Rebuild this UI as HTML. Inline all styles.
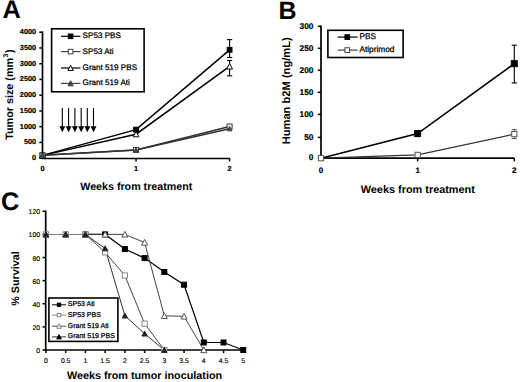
<!DOCTYPE html>
<html><head><meta charset="utf-8"><style>
html,body{margin:0;padding:0;background:#fff;}
body{width:520px;height:382px;overflow:hidden;}
svg{display:block;font-family:"Liberation Sans", sans-serif;text-rendering:geometricPrecision;}
</style></head><body>
<svg width="520" height="382" viewBox="0 0 520 382">
<rect width="520" height="382" fill="#fff"/>
<text x="2.50" y="17.80" font-size="25.4" font-weight="bold" text-anchor="start" fill="#000" >A</text>
<line x1="42.50" y1="31.40" x2="42.50" y2="159.00" stroke="#000" stroke-width="1.7"/>
<line x1="41.70" y1="158.50" x2="229.60" y2="158.50" stroke="#000" stroke-width="1.7"/>
<line x1="39.30" y1="158.20" x2="42.50" y2="158.20" stroke="#000" stroke-width="1.5"/>
<text x="36.10" y="160.00" font-size="7.3" font-weight="bold" text-anchor="end" fill="#000" stroke="#000" stroke-width="0.2" >0</text>
<line x1="39.30" y1="142.45" x2="42.50" y2="142.45" stroke="#000" stroke-width="1.5"/>
<text x="36.10" y="144.25" font-size="7.3" font-weight="bold" text-anchor="end" fill="#000" stroke="#000" stroke-width="0.2" >500</text>
<line x1="39.30" y1="126.70" x2="42.50" y2="126.70" stroke="#000" stroke-width="1.5"/>
<text x="36.10" y="128.50" font-size="7.3" font-weight="bold" text-anchor="end" fill="#000" stroke="#000" stroke-width="0.2" >1000</text>
<line x1="39.30" y1="110.95" x2="42.50" y2="110.95" stroke="#000" stroke-width="1.5"/>
<text x="36.10" y="112.75" font-size="7.3" font-weight="bold" text-anchor="end" fill="#000" stroke="#000" stroke-width="0.2" >1500</text>
<line x1="39.30" y1="95.20" x2="42.50" y2="95.20" stroke="#000" stroke-width="1.5"/>
<text x="36.10" y="97.00" font-size="7.3" font-weight="bold" text-anchor="end" fill="#000" stroke="#000" stroke-width="0.2" >2000</text>
<line x1="39.30" y1="79.45" x2="42.50" y2="79.45" stroke="#000" stroke-width="1.5"/>
<text x="36.10" y="81.25" font-size="7.3" font-weight="bold" text-anchor="end" fill="#000" stroke="#000" stroke-width="0.2" >2500</text>
<line x1="39.30" y1="63.70" x2="42.50" y2="63.70" stroke="#000" stroke-width="1.5"/>
<text x="36.10" y="65.50" font-size="7.3" font-weight="bold" text-anchor="end" fill="#000" stroke="#000" stroke-width="0.2" >3000</text>
<line x1="39.30" y1="47.95" x2="42.50" y2="47.95" stroke="#000" stroke-width="1.5"/>
<text x="36.10" y="49.75" font-size="7.3" font-weight="bold" text-anchor="end" fill="#000" stroke="#000" stroke-width="0.2" >3500</text>
<line x1="39.30" y1="32.20" x2="42.50" y2="32.20" stroke="#000" stroke-width="1.5"/>
<text x="36.10" y="34.00" font-size="7.3" font-weight="bold" text-anchor="end" fill="#000" stroke="#000" stroke-width="0.2" >4000</text>
<line x1="136.05" y1="158.20" x2="136.05" y2="161.40" stroke="#000" stroke-width="1.5"/>
<line x1="229.60" y1="158.20" x2="229.60" y2="161.40" stroke="#000" stroke-width="1.5"/>
<text x="42.50" y="171.30" font-size="7.3" font-weight="bold" text-anchor="middle" fill="#000" stroke="#000" stroke-width="0.2" >0</text>
<text x="136.05" y="171.30" font-size="7.3" font-weight="bold" text-anchor="middle" fill="#000" stroke="#000" stroke-width="0.2" >1</text>
<text x="229.60" y="171.30" font-size="7.3" font-weight="bold" text-anchor="middle" fill="#000" stroke="#000" stroke-width="0.2" >2</text>
<text x="136.30" y="189.70" font-size="10.7" font-weight="bold" text-anchor="middle" fill="#000" >Weeks from treatment</text>
<text x="13.20" y="94.60" font-size="10.8" font-weight="bold" text-anchor="middle" fill="#000" transform="rotate(-90 13.2 94.6)">Tumor size (mm<tspan font-size="7" dx="0.4" dy="-5.6">3</tspan><tspan dx="0.6" dy="5.6">)</tspan></text>
<line x1="62.30" y1="107.90" x2="62.30" y2="127.50" stroke="#000" stroke-width="1.1"/>
<polygon points="59.30,126.3 65.30,126.3 62.30,132.3" fill="#000"/>
<line x1="68.60" y1="107.90" x2="68.60" y2="127.50" stroke="#000" stroke-width="1.1"/>
<polygon points="65.60,126.3 71.60,126.3 68.60,132.3" fill="#000"/>
<line x1="74.90" y1="107.90" x2="74.90" y2="127.50" stroke="#000" stroke-width="1.1"/>
<polygon points="71.90,126.3 77.90,126.3 74.90,132.3" fill="#000"/>
<line x1="81.20" y1="107.90" x2="81.20" y2="127.50" stroke="#000" stroke-width="1.1"/>
<polygon points="78.20,126.3 84.20,126.3 81.20,132.3" fill="#000"/>
<line x1="87.30" y1="107.90" x2="87.30" y2="127.50" stroke="#000" stroke-width="1.1"/>
<polygon points="84.30,126.3 90.30,126.3 87.30,132.3" fill="#000"/>
<line x1="93.50" y1="107.90" x2="93.50" y2="127.50" stroke="#000" stroke-width="1.1"/>
<polygon points="90.50,126.3 96.50,126.3 93.50,132.3" fill="#000"/>
<polyline points="42.50,155.36 136.05,129.60 229.60,49.81" fill="none" stroke="#000" stroke-width="1.5" stroke-linejoin="miter"/>
<polyline points="42.50,155.36 136.05,149.92 229.60,126.51" fill="none" stroke="#333" stroke-width="1.5" stroke-linejoin="miter"/>
<polyline points="42.50,155.36 136.05,134.20 229.60,66.41" fill="none" stroke="#000" stroke-width="1.5" stroke-linejoin="miter"/>
<polyline points="42.50,155.36 136.05,149.92 229.60,128.68" fill="none" stroke="#333" stroke-width="1.5" stroke-linejoin="miter"/>
<line x1="229.60" y1="39.61" x2="229.60" y2="57.51" stroke="#000" stroke-width="1.1"/>
<line x1="227.00" y1="39.61" x2="232.20" y2="39.61" stroke="#000" stroke-width="1.1"/>
<line x1="227.00" y1="57.51" x2="232.20" y2="57.51" stroke="#000" stroke-width="1.1"/>
<line x1="229.60" y1="60.51" x2="229.60" y2="75.81" stroke="#000" stroke-width="1.1"/>
<line x1="227.00" y1="60.51" x2="232.20" y2="60.51" stroke="#000" stroke-width="1.1"/>
<line x1="227.00" y1="75.81" x2="232.20" y2="75.81" stroke="#000" stroke-width="1.1"/>
<rect x="40.10" y="152.96" width="4.8" height="4.8" fill="#000" stroke="#000" stroke-width="1.0"/>
<rect x="133.65" y="127.20" width="4.8" height="4.8" fill="#000" stroke="#000" stroke-width="1.0"/>
<rect x="227.20" y="47.41" width="4.8" height="4.8" fill="#000" stroke="#000" stroke-width="1.0"/>
<rect x="40.00" y="152.86" width="5.0" height="5.0" fill="#fff" stroke="#333" stroke-width="1.0"/>
<rect x="133.55" y="147.42" width="5.0" height="5.0" fill="#fff" stroke="#333" stroke-width="1.0"/>
<rect x="227.10" y="124.01" width="5.0" height="5.0" fill="#fff" stroke="#333" stroke-width="1.0"/>
<polygon points="42.50,152.45 45.40,157.97 39.60,157.97" fill="#fff" stroke="#000" stroke-width="1.0" stroke-linejoin="miter"/>
<polygon points="136.05,131.29 138.95,136.81 133.15,136.81" fill="#fff" stroke="#000" stroke-width="1.0" stroke-linejoin="miter"/>
<polygon points="229.60,63.50 232.50,69.02 226.70,69.02" fill="#fff" stroke="#000" stroke-width="1.0" stroke-linejoin="miter"/>
<polygon points="42.50,152.90 44.90,157.52 40.10,157.52" fill="#444" stroke="#444" stroke-width="1.0" stroke-linejoin="miter"/>
<polygon points="136.05,147.46 138.45,152.08 133.65,152.08" fill="#444" stroke="#444" stroke-width="1.0" stroke-linejoin="miter"/>
<polygon points="229.60,126.22 232.00,130.84 227.20,130.84" fill="#444" stroke="#444" stroke-width="1.0" stroke-linejoin="miter"/>
<rect x="51.6" y="28.8" width="92.5" height="63.0" fill="#fff" stroke="#000" stroke-width="1.6"/>
<line x1="61.00" y1="36.30" x2="80.40" y2="36.30" stroke="#000" stroke-width="1.2"/>
<rect x="68.30" y="34.00" width="4.6" height="4.6" fill="#000" stroke="#000" stroke-width="1.0"/>
<text x="82.60" y="38.40" font-size="8.1" font-weight="normal" text-anchor="start" fill="#000" stroke="#000" stroke-width="0.25" >SP53 PBS</text>
<line x1="61.00" y1="51.60" x2="80.40" y2="51.60" stroke="#444" stroke-width="1.2"/>
<rect x="68.30" y="49.30" width="4.6" height="4.6" fill="#fff" stroke="#444" stroke-width="1.0"/>
<text x="82.60" y="53.50" font-size="8.1" font-weight="normal" text-anchor="start" fill="#000" stroke="#000" stroke-width="0.25" >SP53 Ati</text>
<line x1="61.00" y1="68.00" x2="80.40" y2="68.00" stroke="#000" stroke-width="1.2"/>
<polygon points="70.60,65.27 73.30,70.43 67.90,70.43" fill="#fff" stroke="#000" stroke-width="1.0" stroke-linejoin="miter"/>
<text x="82.60" y="69.90" font-size="8.1" font-weight="normal" text-anchor="start" fill="#000" stroke="#000" stroke-width="0.25" >Grant 519 PBS</text>
<line x1="61.00" y1="83.40" x2="80.40" y2="83.40" stroke="#444" stroke-width="1.2"/>
<polygon points="70.60,80.67 73.30,85.83 67.90,85.83" fill="#444" stroke="#444" stroke-width="1.0" stroke-linejoin="miter"/>
<text x="82.60" y="85.00" font-size="8.1" font-weight="normal" text-anchor="start" fill="#000" stroke="#000" stroke-width="0.25" >Grant 519 Ati</text>
<text x="278.50" y="19.30" font-size="25" font-weight="bold" text-anchor="start" fill="#000" >B</text>
<line x1="321.00" y1="25.50" x2="321.00" y2="159.00" stroke="#000" stroke-width="1.7"/>
<line x1="320.20" y1="158.20" x2="514.30" y2="158.20" stroke="#000" stroke-width="1.7"/>
<line x1="317.80" y1="158.20" x2="321.00" y2="158.20" stroke="#000" stroke-width="1.5"/>
<text x="313.40" y="160.40" font-size="8.3" font-weight="bold" text-anchor="end" fill="#000" stroke="#000" stroke-width="0.2" >0</text>
<line x1="317.80" y1="137.40" x2="321.00" y2="137.40" stroke="#000" stroke-width="1.5"/>
<text x="313.40" y="139.60" font-size="8.3" font-weight="bold" text-anchor="end" fill="#000" stroke="#000" stroke-width="0.2" >50</text>
<line x1="317.80" y1="114.40" x2="321.00" y2="114.40" stroke="#000" stroke-width="1.5"/>
<text x="313.40" y="116.60" font-size="8.3" font-weight="bold" text-anchor="end" fill="#000" stroke="#000" stroke-width="0.2" >100</text>
<line x1="317.80" y1="92.30" x2="321.00" y2="92.30" stroke="#000" stroke-width="1.5"/>
<text x="313.40" y="94.50" font-size="8.3" font-weight="bold" text-anchor="end" fill="#000" stroke="#000" stroke-width="0.2" >150</text>
<line x1="317.80" y1="70.30" x2="321.00" y2="70.30" stroke="#000" stroke-width="1.5"/>
<text x="313.40" y="72.50" font-size="8.3" font-weight="bold" text-anchor="end" fill="#000" stroke="#000" stroke-width="0.2" >200</text>
<line x1="317.80" y1="48.30" x2="321.00" y2="48.30" stroke="#000" stroke-width="1.5"/>
<text x="313.40" y="50.50" font-size="8.3" font-weight="bold" text-anchor="end" fill="#000" stroke="#000" stroke-width="0.2" >250</text>
<line x1="317.80" y1="26.30" x2="321.00" y2="26.30" stroke="#000" stroke-width="1.5"/>
<text x="313.40" y="28.50" font-size="8.3" font-weight="bold" text-anchor="end" fill="#000" stroke="#000" stroke-width="0.2" >300</text>
<line x1="417.65" y1="158.20" x2="417.65" y2="161.40" stroke="#000" stroke-width="1.5"/>
<line x1="514.30" y1="158.20" x2="514.30" y2="161.40" stroke="#000" stroke-width="1.5"/>
<text x="321.00" y="173.20" font-size="8.0" font-weight="bold" text-anchor="middle" fill="#000" stroke="#000" stroke-width="0.2" >0</text>
<text x="417.65" y="173.20" font-size="8.0" font-weight="bold" text-anchor="middle" fill="#000" stroke="#000" stroke-width="0.2" >1</text>
<text x="514.30" y="173.20" font-size="8.0" font-weight="bold" text-anchor="middle" fill="#000" stroke="#000" stroke-width="0.2" >2</text>
<text x="417.80" y="193.10" font-size="10.9" font-weight="bold" text-anchor="middle" fill="#000" >Weeks from treatment</text>
<text x="290.30" y="90.80" font-size="11.15" font-weight="bold" text-anchor="middle" fill="#000" transform="rotate(-90 290.3 90.8)">Human b2M (ng/mL)</text>
<polyline points="321.00,158.20 417.65,154.90 514.30,134.11" fill="none" stroke="#333" stroke-width="1.2" stroke-linejoin="miter"/>
<polyline points="321.00,158.20 417.65,133.58 514.30,63.67" fill="none" stroke="#000" stroke-width="1.6" stroke-linejoin="miter"/>
<line x1="514.30" y1="45.20" x2="514.30" y2="82.90" stroke="#000" stroke-width="1.1"/>
<line x1="511.70" y1="45.20" x2="516.90" y2="45.20" stroke="#000" stroke-width="1.1"/>
<line x1="511.70" y1="82.90" x2="516.90" y2="82.90" stroke="#000" stroke-width="1.1"/>
<line x1="514.30" y1="129.61" x2="514.30" y2="138.61" stroke="#555" stroke-width="1.0"/>
<line x1="511.70" y1="129.61" x2="516.90" y2="129.61" stroke="#555" stroke-width="1.0"/>
<line x1="511.70" y1="138.61" x2="516.90" y2="138.61" stroke="#555" stroke-width="1.0"/>
<line x1="417.65" y1="130.58" x2="417.65" y2="136.58" stroke="#000" stroke-width="1.0"/>
<line x1="415.65" y1="130.58" x2="419.65" y2="130.58" stroke="#000" stroke-width="1.0"/>
<line x1="415.65" y1="136.58" x2="419.65" y2="136.58" stroke="#000" stroke-width="1.0"/>
<rect x="414.65" y="130.58" width="6" height="6" fill="#000" stroke="#000" stroke-width="1.0"/>
<rect x="511.30" y="60.67" width="6" height="6" fill="#000" stroke="#000" stroke-width="1.0"/>
<rect x="318.40" y="155.60" width="5.2" height="5.2" fill="#fff" stroke="#555" stroke-width="1.0"/>
<rect x="415.05" y="152.30" width="5.2" height="5.2" fill="#fff" stroke="#555" stroke-width="1.0"/>
<rect x="511.70" y="131.51" width="5.2" height="5.2" fill="#fff" stroke="#555" stroke-width="1.0"/>
<rect x="327.9" y="30.3" width="75.2" height="27.2" fill="#fff" stroke="#000" stroke-width="1.6"/>
<line x1="337.60" y1="37.10" x2="357.60" y2="37.10" stroke="#000" stroke-width="1.2"/>
<rect x="344.95" y="34.75" width="4.7" height="4.7" fill="#000" stroke="#000" stroke-width="1.0"/>
<text x="359.40" y="38.70" font-size="8.3" font-weight="normal" text-anchor="start" fill="#000" stroke="#000" stroke-width="0.25" >PBS</text>
<line x1="337.60" y1="50.10" x2="357.60" y2="50.10" stroke="#444" stroke-width="1.2"/>
<rect x="344.95" y="47.75" width="4.7" height="4.7" fill="#fff" stroke="#444" stroke-width="1.0"/>
<text x="359.40" y="51.70" font-size="8.3" font-weight="normal" text-anchor="start" fill="#000" stroke="#000" stroke-width="0.25" >Atiprimod</text>
<text x="0.90" y="209.90" font-size="25.3" font-weight="bold" text-anchor="start" fill="#000" >C</text>
<line x1="45.70" y1="210.48" x2="45.70" y2="350.80" stroke="#000" stroke-width="1.7"/>
<line x1="44.90" y1="350.00" x2="243.10" y2="350.00" stroke="#000" stroke-width="1.7"/>
<line x1="42.50" y1="350.00" x2="45.70" y2="350.00" stroke="#000" stroke-width="1.5"/>
<text x="40.10" y="353.00" font-size="6.9" font-weight="normal" text-anchor="end" fill="#000" stroke="#000" stroke-width="0.15" >0</text>
<line x1="42.50" y1="326.88" x2="45.70" y2="326.88" stroke="#000" stroke-width="1.5"/>
<text x="40.10" y="329.88" font-size="6.9" font-weight="normal" text-anchor="end" fill="#000" stroke="#000" stroke-width="0.15" >20</text>
<line x1="42.50" y1="303.76" x2="45.70" y2="303.76" stroke="#000" stroke-width="1.5"/>
<text x="40.10" y="306.76" font-size="6.9" font-weight="normal" text-anchor="end" fill="#000" stroke="#000" stroke-width="0.15" >40</text>
<line x1="42.50" y1="280.64" x2="45.70" y2="280.64" stroke="#000" stroke-width="1.5"/>
<text x="40.10" y="283.64" font-size="6.9" font-weight="normal" text-anchor="end" fill="#000" stroke="#000" stroke-width="0.15" >60</text>
<line x1="42.50" y1="257.52" x2="45.70" y2="257.52" stroke="#000" stroke-width="1.5"/>
<text x="40.10" y="260.52" font-size="6.9" font-weight="normal" text-anchor="end" fill="#000" stroke="#000" stroke-width="0.15" >80</text>
<line x1="42.50" y1="234.40" x2="45.70" y2="234.40" stroke="#000" stroke-width="1.5"/>
<text x="40.10" y="237.40" font-size="6.9" font-weight="normal" text-anchor="end" fill="#000" stroke="#000" stroke-width="0.15" >100</text>
<line x1="42.50" y1="211.28" x2="45.70" y2="211.28" stroke="#000" stroke-width="1.5"/>
<text x="40.10" y="214.28" font-size="6.9" font-weight="normal" text-anchor="end" fill="#000" stroke="#000" stroke-width="0.15" >120</text>
<line x1="45.95" y1="350.00" x2="45.95" y2="353.00" stroke="#000" stroke-width="1.5"/>
<text x="45.95" y="362.60" font-size="6.9" font-weight="normal" text-anchor="middle" fill="#000" stroke="#000" stroke-width="0.15" >0</text>
<line x1="65.68" y1="350.00" x2="65.68" y2="353.00" stroke="#000" stroke-width="1.5"/>
<text x="65.68" y="362.60" font-size="6.9" font-weight="normal" text-anchor="middle" fill="#000" stroke="#000" stroke-width="0.15" >0.5</text>
<line x1="85.41" y1="350.00" x2="85.41" y2="353.00" stroke="#000" stroke-width="1.5"/>
<text x="85.41" y="362.60" font-size="6.9" font-weight="normal" text-anchor="middle" fill="#000" stroke="#000" stroke-width="0.15" >1</text>
<line x1="105.14" y1="350.00" x2="105.14" y2="353.00" stroke="#000" stroke-width="1.5"/>
<text x="105.14" y="362.60" font-size="6.9" font-weight="normal" text-anchor="middle" fill="#000" stroke="#000" stroke-width="0.15" >1.5</text>
<line x1="124.87" y1="350.00" x2="124.87" y2="353.00" stroke="#000" stroke-width="1.5"/>
<text x="124.87" y="362.60" font-size="6.9" font-weight="normal" text-anchor="middle" fill="#000" stroke="#000" stroke-width="0.15" >2</text>
<line x1="144.60" y1="350.00" x2="144.60" y2="353.00" stroke="#000" stroke-width="1.5"/>
<text x="144.60" y="362.60" font-size="6.9" font-weight="normal" text-anchor="middle" fill="#000" stroke="#000" stroke-width="0.15" >2.5</text>
<line x1="164.33" y1="350.00" x2="164.33" y2="353.00" stroke="#000" stroke-width="1.5"/>
<text x="164.33" y="362.60" font-size="6.9" font-weight="normal" text-anchor="middle" fill="#000" stroke="#000" stroke-width="0.15" >3</text>
<line x1="184.06" y1="350.00" x2="184.06" y2="353.00" stroke="#000" stroke-width="1.5"/>
<text x="184.06" y="362.60" font-size="6.9" font-weight="normal" text-anchor="middle" fill="#000" stroke="#000" stroke-width="0.15" >3.5</text>
<line x1="203.79" y1="350.00" x2="203.79" y2="353.00" stroke="#000" stroke-width="1.5"/>
<text x="203.79" y="362.60" font-size="6.9" font-weight="normal" text-anchor="middle" fill="#000" stroke="#000" stroke-width="0.15" >4</text>
<line x1="223.52" y1="350.00" x2="223.52" y2="353.00" stroke="#000" stroke-width="1.5"/>
<text x="223.52" y="362.60" font-size="6.9" font-weight="normal" text-anchor="middle" fill="#000" stroke="#000" stroke-width="0.15" >4.5</text>
<line x1="243.25" y1="350.00" x2="243.25" y2="353.00" stroke="#000" stroke-width="1.5"/>
<text x="243.25" y="362.60" font-size="6.9" font-weight="normal" text-anchor="middle" fill="#000" stroke="#000" stroke-width="0.15" >5</text>
<text x="144.50" y="378.70" font-size="10.8" font-weight="bold" text-anchor="middle" fill="#000" >Weeks from tumor inoculation</text>
<text x="19.30" y="278.50" font-size="10.8" font-weight="bold" text-anchor="middle" fill="#000" transform="rotate(-90 19.3 278.5)">% Survival</text>
<line x1="45.95" y1="234.40" x2="85.41" y2="234.40" stroke="#777" stroke-width="1.0"/>
<polyline points="85.41,234.40 105.14,234.40 124.87,249.08 144.60,258.10 164.33,271.97 184.06,284.69 203.79,342.49 223.52,342.49 243.25,350.00" fill="none" stroke="#000" stroke-width="1.2" stroke-linejoin="miter"/>
<polyline points="85.41,234.40 105.14,252.32 124.87,275.55 144.60,323.64 164.33,350.00" fill="none" stroke="#444" stroke-width="1.0" stroke-linejoin="miter"/>
<polyline points="85.41,234.40 105.14,234.40 124.87,234.40 144.60,242.49 164.33,315.78 184.06,316.36 203.79,350.00" fill="none" stroke="#444" stroke-width="1.0" stroke-linejoin="miter"/>
<polyline points="85.41,234.40 105.14,248.50 124.87,315.67 144.60,333.70 164.33,350.00" fill="none" stroke="#333" stroke-width="1.0" stroke-linejoin="miter"/>
<rect x="82.91" y="231.90" width="5.0" height="5.0" fill="#000" stroke="#000" stroke-width="1.0"/>
<rect x="102.64" y="231.90" width="5.0" height="5.0" fill="#000" stroke="#000" stroke-width="1.0"/>
<rect x="122.37" y="246.58" width="5.0" height="5.0" fill="#000" stroke="#000" stroke-width="1.0"/>
<rect x="142.10" y="255.60" width="5.0" height="5.0" fill="#000" stroke="#000" stroke-width="1.0"/>
<rect x="161.83" y="269.47" width="5.0" height="5.0" fill="#000" stroke="#000" stroke-width="1.0"/>
<rect x="181.56" y="282.19" width="5.0" height="5.0" fill="#000" stroke="#000" stroke-width="1.0"/>
<rect x="201.29" y="339.99" width="5.0" height="5.0" fill="#000" stroke="#000" stroke-width="1.0"/>
<rect x="221.02" y="339.99" width="5.0" height="5.0" fill="#000" stroke="#000" stroke-width="1.0"/>
<rect x="240.75" y="347.50" width="5.0" height="5.0" fill="#000" stroke="#000" stroke-width="1.0"/>
<rect x="43.35" y="231.80" width="5.2" height="5.2" fill="#fff" stroke="#888" stroke-width="1.0"/>
<rect x="63.08" y="231.80" width="5.2" height="5.2" fill="#fff" stroke="#888" stroke-width="1.0"/>
<rect x="82.81" y="231.80" width="5.2" height="5.2" fill="#fff" stroke="#888" stroke-width="1.0"/>
<rect x="102.54" y="249.72" width="5.2" height="5.2" fill="#fff" stroke="#888" stroke-width="1.0"/>
<rect x="122.27" y="272.95" width="5.2" height="5.2" fill="#fff" stroke="#888" stroke-width="1.0"/>
<rect x="142.00" y="321.04" width="5.2" height="5.2" fill="#fff" stroke="#888" stroke-width="1.0"/>
<rect x="161.73" y="347.40" width="5.2" height="5.2" fill="#fff" stroke="#888" stroke-width="1.0"/>
<polygon points="45.95,231.40 48.95,237.10 42.95,237.10" fill="#fff" stroke="#555" stroke-width="1.0" stroke-linejoin="miter"/>
<polygon points="65.68,231.40 68.68,237.10 62.68,237.10" fill="#fff" stroke="#555" stroke-width="1.0" stroke-linejoin="miter"/>
<polygon points="85.41,231.40 88.41,237.10 82.41,237.10" fill="#fff" stroke="#555" stroke-width="1.0" stroke-linejoin="miter"/>
<polygon points="105.14,231.40 108.14,237.10 102.14,237.10" fill="#fff" stroke="#555" stroke-width="1.0" stroke-linejoin="miter"/>
<polygon points="124.87,231.40 127.87,237.10 121.87,237.10" fill="#fff" stroke="#555" stroke-width="1.0" stroke-linejoin="miter"/>
<polygon points="144.60,239.49 147.60,245.19 141.60,245.19" fill="#fff" stroke="#555" stroke-width="1.0" stroke-linejoin="miter"/>
<polygon points="164.33,312.78 167.33,318.48 161.33,318.48" fill="#fff" stroke="#555" stroke-width="1.0" stroke-linejoin="miter"/>
<polygon points="184.06,313.36 187.06,319.06 181.06,319.06" fill="#fff" stroke="#555" stroke-width="1.0" stroke-linejoin="miter"/>
<polygon points="203.79,347.00 206.79,352.70 200.79,352.70" fill="#fff" stroke="#555" stroke-width="1.0" stroke-linejoin="miter"/>
<polygon points="45.95,231.76 48.55,236.74 43.35,236.74" fill="#222" stroke="#222" stroke-width="1.0" stroke-linejoin="miter"/>
<polygon points="65.68,231.76 68.28,236.74 63.08,236.74" fill="#222" stroke="#222" stroke-width="1.0" stroke-linejoin="miter"/>
<polygon points="85.41,231.76 88.01,236.74 82.81,236.74" fill="#222" stroke="#222" stroke-width="1.0" stroke-linejoin="miter"/>
<polygon points="105.14,245.86 107.74,250.84 102.54,250.84" fill="#222" stroke="#222" stroke-width="1.0" stroke-linejoin="miter"/>
<polygon points="124.87,313.03 127.47,318.01 122.27,318.01" fill="#222" stroke="#222" stroke-width="1.0" stroke-linejoin="miter"/>
<polygon points="144.60,331.06 147.20,336.04 142.00,336.04" fill="#222" stroke="#222" stroke-width="1.0" stroke-linejoin="miter"/>
<polygon points="164.33,347.36 166.93,352.34 161.73,352.34" fill="#222" stroke="#222" stroke-width="1.0" stroke-linejoin="miter"/>
<rect x="48.9" y="298.0" width="69.0" height="43.4" fill="#fff" stroke="#000" stroke-width="1.6"/>
<line x1="52.00" y1="304.80" x2="66.10" y2="304.80" stroke="#000" stroke-width="1.0"/>
<rect x="57.30" y="303.10" width="3.4" height="3.4" fill="#000" stroke="#000" stroke-width="0.9"/>
<text x="67.80" y="306.30" font-size="7.0" font-weight="normal" text-anchor="start" fill="#000" stroke="#000" stroke-width="0.25" >SP53 Ati</text>
<line x1="52.00" y1="315.10" x2="66.10" y2="315.10" stroke="#888" stroke-width="1.0"/>
<rect x="57.30" y="313.40" width="3.4" height="3.4" fill="#fff" stroke="#777" stroke-width="0.9"/>
<text x="67.80" y="316.60" font-size="7.0" font-weight="normal" text-anchor="start" fill="#000" stroke="#000" stroke-width="0.25" >SP53 PBS</text>
<line x1="52.00" y1="326.20" x2="66.10" y2="326.20" stroke="#555" stroke-width="1.0"/>
<polygon points="59.00,323.83 61.30,328.27 56.70,328.27" fill="#fff" stroke="#777" stroke-width="0.9" stroke-linejoin="miter"/>
<text x="67.80" y="327.70" font-size="7.0" font-weight="normal" text-anchor="start" fill="#000" stroke="#000" stroke-width="0.25" >Grant 519 Ati</text>
<line x1="52.00" y1="336.90" x2="66.10" y2="336.90" stroke="#333" stroke-width="1.0"/>
<polygon points="59.00,334.53 61.30,338.97 56.70,338.97" fill="#000" stroke="#000" stroke-width="0.9" stroke-linejoin="miter"/>
<text x="67.80" y="338.40" font-size="7.0" font-weight="normal" text-anchor="start" fill="#000" stroke="#000" stroke-width="0.25" >Grant 519 PBS</text>
</svg>
</body></html>
